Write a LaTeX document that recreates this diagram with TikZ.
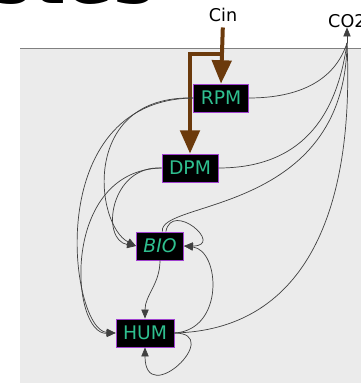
\documentclass[tikz,border=0pt]{standalone}
\usepackage{fontspec}
\setmainfont{DejaVu Sans}
\usetikzlibrary{arrows.meta,positioning}
\definecolor{panel}{HTML}{EBEBEB}
\definecolor{brun}{HTML}{6B3A0C}
\definecolor{pooltxt}{HTML}{2FBF8F}
\definecolor{poolline}{HTML}{A040D0}
\tikzset{
  pool/.style={rectangle,draw=poolline,fill=black,text=pooltxt,line width=0.7pt,
    minimum height=0.84cm,inner xsep=0.21cm,font=\fontsize{16}{18}\selectfont},
  lbl/.style={font=\fontsize{15}{17}\selectfont,inner sep=0pt},
  flux/.style={draw=black!75,line width=0.6pt,-{Triangle[length=0.27cm,width=0.22cm]}},
  plain/.style={draw=black!75,line width=0.6pt},
  input/.style={draw=brun,line width=0.12cm,-{Triangle[length=0.7cm,width=0.58cm]}}
}

\begin{document}
\begin{tikzpicture}[x=0.03cm,y=-0.03cm]
  \useasboundingbox (0,0) rectangle (361,385);
  % title cut off above
  \begin{scope}
    \clip (0,0) rectangle (200,6);
    \node[anchor=base west,inner sep=0pt,font=\fontsize{60}{60}\selectfont\bfseries] (title) at (-10,3) {stes};
  \end{scope}

  % soil panel
  \fill[panel] (20,48) rectangle (361,383);
  \draw[black!50,line width=0.8pt] (20,48) -- (361,48);

  \node[pool] (rpm) at (221,98) {RPM};
  \node[pool] (dpm) at (190,168) {DPM};
  \node[pool] (bio) at (160,246) {\itshape BIO};
  \node[pool] (hum) at (145,333) {HUM};

  \node[lbl,anchor=base] (cin) at (223,21) {Cin};
  \node[lbl,anchor=base west] (co2) at (328,27) {CO2};
  \coordinate (sink) at (347,43);
  \coordinate (split) at (222,54);

  % inputs
  \draw[input,shorten <=0.18cm] (cin.south) -- (rpm.north);
  \draw[input] (split) -| (dpm.north);

  % to CO2
  \begin{scope}[every path/.style=plain]
    \path (rpm.east) .. controls (300,98) and (335,80) .. (sink);
    \path (dpm.east) .. controls (290,168) and (335,130) .. (sink);
    \path ([xshift=2]bio.north) .. controls (158,200) and (345,215) .. (sink);
    \path (hum.east) .. controls (300,330) and (355,220) .. (sink);
  \end{scope}
  \draw[flux] (sink) -- (co2.south -| sink);

  % transfers
  \begin{scope}[every path/.style=flux]
    \path (rpm.west) .. controls (40,100) and (70,330) .. (hum.west);
    \path (rpm.west) .. controls (80,95) and (95,225) .. (bio.west);
    \path (dpm.west) .. controls (60,170) and (70,335) .. (hum.west);
    \path (dpm.west) .. controls (110,165) and (100,240) .. (bio.west);
    \path (bio.south) to[out=-90,in=90] (hum.north);
    \path ([xshift=5]bio.north) .. controls (172,200) and (225,246) .. (bio.east);
    \path (hum.east) .. controls (225,330) and (220,250) .. (bio.east);
    \path (hum.east) .. controls (225,333) and (145,410) .. (hum.south);
  \end{scope}
\end{tikzpicture}
\end{document}
